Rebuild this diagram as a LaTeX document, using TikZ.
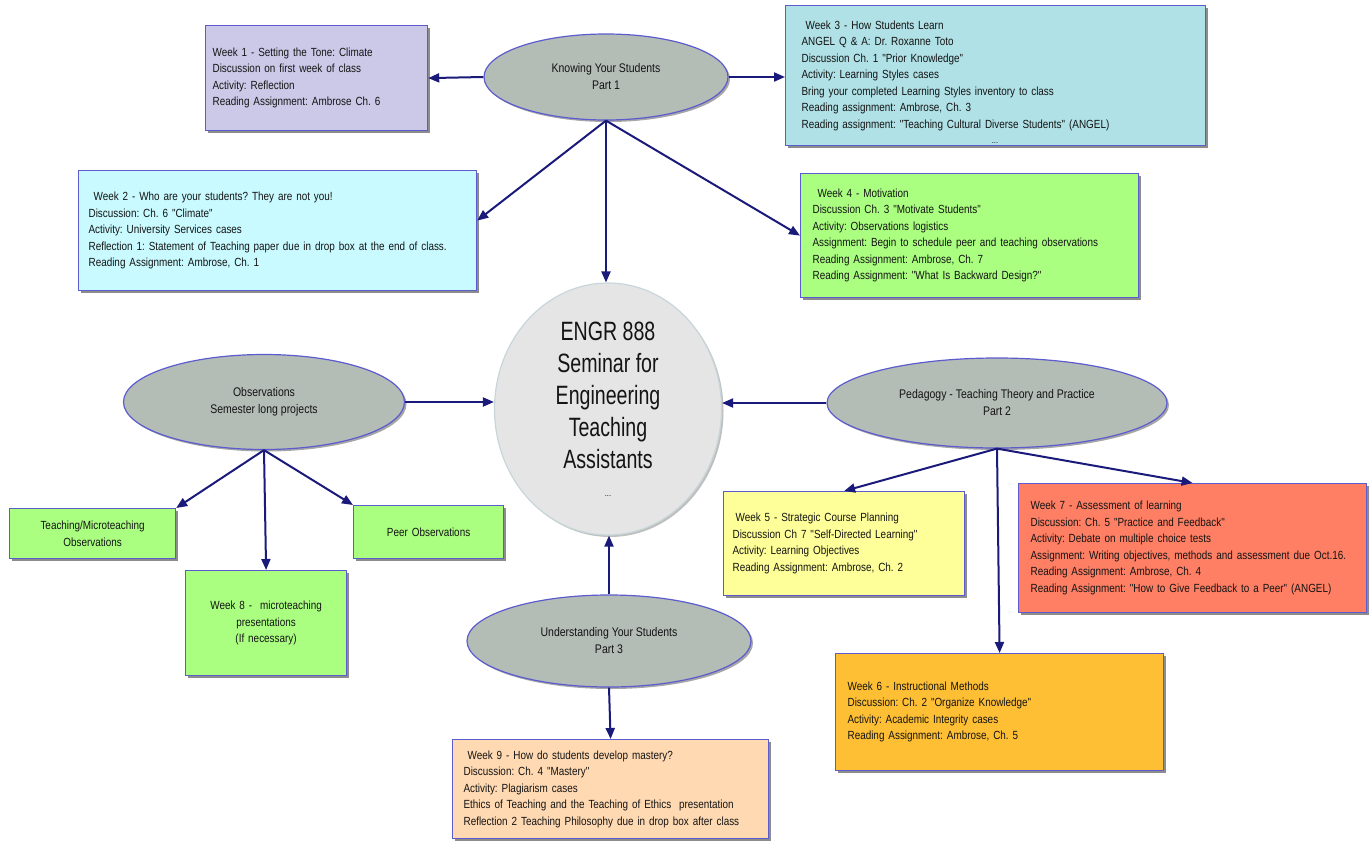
\documentclass[tikz,border=0pt]{standalone}
\usepackage{fontspec}
\setmainfont{Liberation Sans}
\newfontfamily\cardfont{Liberation Sans}[FakeStretch=0.84]
\newfontfamily\hubfont{Liberation Sans}[FakeStretch=0.74]
\usetikzlibrary{arrows.meta,shapes.geometric,shadows}
\frenchspacing
\definecolor{ink}{HTML}{141414}
\definecolor{rim}{HTML}{5C5CCF}
\definecolor{navy}{HTML}{1A1A7A}
\definecolor{topicgray}{HTML}{B4BCB6}
\definecolor{hubgray}{HTML}{E5E5E5}
\definecolor{hubrim}{HTML}{C8D6DA}
\definecolor{lilac}{HTML}{CCC9E8}
\definecolor{powder}{HTML}{B0E1E6}
\definecolor{icecyan}{HTML}{C8FAFF}
\definecolor{lime}{HTML}{AAFF80}
\definecolor{lemon}{HTML}{FFFF99}
\definecolor{salmon}{HTML}{FF7F64}
\definecolor{amber}{HTML}{FFBF34}
\definecolor{peach}{HTML}{FFD9B2}
\tikzset{
card/.style={draw=rim,line width=1.2pt,anchor=north west,align=left,inner ysep=2pt,text=ink,font=\cardfont\fontsize{11.8}{16.5}\selectfont,drop shadow={shadow xshift=2.5pt,shadow yshift=-2.5pt,fill=black,opacity=.45}},
plaincard/.style={card,align=center,fill=lime},
topic/.style={ellipse,draw=rim,line width=1.2pt,fill=topicgray,inner sep=0pt,align=center,text=ink,font=\cardfont\fontsize{12.5}{17}\selectfont,drop shadow={shadow xshift=2pt,shadow yshift=-2pt,fill=black,opacity=.35}},
hub/.style={ellipse,draw=hubrim,line width=1.2pt,fill=hubgray,inner sep=0pt,drop shadow={shadow xshift=2pt,shadow yshift=-2pt,fill=black,opacity=.25}},
hubtext/.style={align=center,text=ink,font=\hubfont\fontsize{26.5}{32}\selectfont},
dots/.style={anchor=base,inner sep=0pt,text=ink,font=\cardfont\fontsize{9}{9}\selectfont},
link/.style={-{Triangle[length=11pt,width=9pt]},line width=2pt,draw=navy}}

\begin{document}
\begin{tikzpicture}[x=1pt,y=-1pt]
\useasboundingbox (0,0) rectangle (1371,841);
% centre
\node[hub,minimum width=227pt,minimum height=252pt] (hub) at (608,409) {};
\node[hubtext] (hubtitle) at (608,395) {ENGR 888\\Seminar for\\Engineering\\Teaching\\Assistants};
\node[dots] (hubmore) at (608,496) {...};
% part 1
\node[topic,minimum width=244pt,minimum height=86pt] (kys) at (606,77) {Knowing Your Students\\Part 1};
\node[card,fill=lilac,text width=208pt,inner xsep=7pt,minimum height=105pt] (wk1) at (205,25) {Week 1 - Setting the Tone: Climate\\Discussion on first week of class\\Activity: Reflection\\Reading Assignment: Ambrose Ch. 6};
\node[card,fill=powder,text width=388pt,inner xsep=16pt,minimum height=140pt] (wk3) at (785,5) {\hspace*{4pt}Week 3 - How Students Learn\\ANGEL Q \& A: Dr. Roxanne Toto\\Discussion Ch. 1 "Prior Knowledge"\\Activity: Learning Styles cases\\Bring your completed Learning Styles inventory to class\\Reading assignment: Ambrose, Ch. 3\\Reading assignment: "Teaching Cultural Diverse Students" (ANGEL)};
\node[dots] (wk3more) at (995,143) {...};
\node[card,fill=icecyan,text width=378pt,inner xsep=10pt,minimum height=120pt] (wk2) at (78,170) {\hspace*{5pt}Week 2 - Who are your students? They are not you!\\Discussion: Ch. 6 "Climate"\\Activity: University Services cases\\Reflection 1: Statement of Teaching paper due in drop box at the end of class.\\Reading Assignment: Ambrose, Ch. 1};
\node[card,fill=lime,text width=314pt,inner xsep=12pt,minimum height=124pt] (wk4) at (800,173) {\hspace*{5pt}Week 4 - Motivation\\Discussion Ch. 3 "Motivate Students"\\Activity: Observations logistics\\Assignment: Begin to schedule peer and teaching observations\\Reading Assignment: Ambrose, Ch. 7\\Reading Assignment: "What Is Backward Design?"};
\draw[link] (kys.west) -- (wk1.east);
\draw[link] (kys.east) -- (kys.east -| wk3.west);
\draw[link] (kys.south) -- ([yshift=10pt]wk2.east);
\draw[link] (kys.south) -- (kys.south |- hub.north);
\draw[link] (kys.south) -- (wk4.west);
% observations
\node[topic,minimum width=281pt,minimum height=95pt] (obs) at (264,402) {Observations\\Semester long projects};
\node[plaincard,text width=156pt,inner xsep=5pt,minimum height=50pt] (teach) at (9,508) {Teaching/Microteaching\\Observations};
\node[plaincard,text width=140pt,inner xsep=5pt,minimum height=53pt] (peer) at (353,505) {Peer Observations};
\node[plaincard,text width=151pt,inner xsep=5pt,minimum height=105pt] (wk8) at (185,570) {Week 8 -\ \ microteaching\\presentations\\(If necessary)};
\draw[link] (obs.east) -- (obs.east -| hub.west);
\draw[link] (obs.south) -- (teach.north east);
\draw[link] (obs.south) -- (wk8.north);
\draw[link] (obs.south) -- (peer.north west);
% part 2
\node[topic,minimum width=340pt,minimum height=90pt] (ped) at (997,403) {Pedagogy - Teaching Theory and Practice\\Part 2};
\node[card,fill=lemon,text width=223pt,inner xsep=9pt,minimum height=104pt] (wk5) at (723,491) {\hspace*{3pt}Week 5 - Strategic Course Planning\\Discussion Ch 7 "Self-Directed Learning"\\Activity: Learning Objectives\\Reading Assignment: Ambrose, Ch. 2};
\node[card,fill=salmon,text width=324pt,inner xsep=12pt,minimum height=129pt] (wk7) at (1018,483) {Week 7 - Assessment of learning\\Discussion: Ch. 5 "Practice and Feedback"\\Activity: Debate on multiple choice tests\\Assignment: Writing objectives, methods and assessment due Oct.16.\\Reading Assignment: Ambrose, Ch. 4\\Reading Assignment: "How to Give Feedback to a Peer" (ANGEL)};
\node[card,fill=amber,text width=304pt,inner xsep=12pt,minimum height=117pt] (wk6) at (835,653) {Week 6 - Instructional Methods\\Discussion: Ch. 2 "Organize Knowledge"\\Activity: Academic Integrity cases\\Reading Assignment: Ambrose, Ch. 5};
\draw[link] (ped.west) -- (ped.west -| hub.east);
\draw[link] (ped.south) -- (wk5.north);
\draw[link] (ped.south) -- (wk6.north);
\draw[link] (ped.south) -- (wk7.north);
% part 3
\node[topic,minimum width=284pt,minimum height=92pt] (und) at (609,641) {Understanding Your Students\\Part 3};
\node[card,fill=peach,text width=294pt,inner xsep=11pt,minimum height=99pt] (wk9) at (452,739) {\hspace*{4pt}Week 9 - How do students develop mastery?\\Discussion: Ch. 4 "Mastery"\\Activity: Plagiarism cases\\Ethics of Teaching and the Teaching of Ethics\ \ presentation\\Reflection 2 Teaching Philosophy due in drop box after class};
\draw[link] (und.north) -- (und.north |- hub.south);
\draw[link] (und.south) -- (wk9.north);
\end{tikzpicture}
\end{document}
